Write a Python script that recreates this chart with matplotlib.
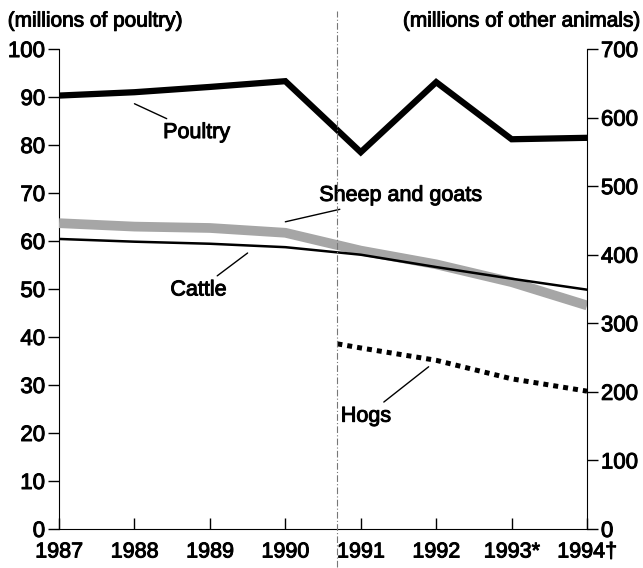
import matplotlib
matplotlib.use("Agg")
import matplotlib.pyplot as plt
import matplotlib.patheffects as pe

# ##### Data #####
years = [1987, 1988, 1989, 1990, 1991, 1992, 1993, 1994]
year_labels = ["1987", "1988", "1989", "1990", "1991", "1992", "1993*", "1994\u2020"]

# millions of poultry (left scale)
poultry = [90.3, 91.0, 92.1, 93.3, 78.5, 93.1, 81.2, 81.5]

# millions of other animals (right scale)
cattle = [423, 419, 416, 411, 400, 382, 365, 349]
sheep_goats = [446, 441, 439, 432, 406, 386, 360, 326]
hogs_years = [1990.69, 1991, 1992, 1993, 1994]
hogs = [270, 264, 246, 219, 201]

break_year = 1990.69

left_ticks = [0, 10, 20, 30, 40, 50, 60, 70, 80, 90, 100]
right_ticks = [0, 100, 200, 300, 400, 500, 600, 700]


def main():
    plt.rcParams['font.family'] = ['Liberation Sans', 'DejaVu Sans']
    heavy = [pe.withStroke(linewidth=0.7, foreground="black")]

    fig = plt.figure(figsize=(6.43, 5.68), dpi=100)
    ax = fig.add_axes([0.0918, 0.0687, 0.8212, 0.845])
    ax2 = ax.twinx()

    ax.set_xlim(1987, 1994)
    ax.set_ylim(0, 100)
    ax2.set_ylim(0, 700)

    # right-scale series
    ax2.plot(years, sheep_goats, color="#a6a6a6", lw=7, solid_capstyle="butt")
    ax2.plot(years, cattle, color="black", lw=1.8)
    ax2.plot(hogs_years, hogs, color="black", lw=3.6, dashes=(1, 1), dash_capstyle="butt")

    # poultry is on the left scale (1 left unit = 7 right units)
    ax2.plot(years, [p * 7 for p in poultry], color="black", lw=4.5, solid_joinstyle="miter")

    # break line
    ax2.axvline(break_year, ymin=-0.08, ymax=1.08, color="#777777", lw=0.8,
                linestyle=(0, (6, 2, 1, 2)), clip_on=False)

    # spines
    for a in (ax, ax2):
        a.spines["top"].set_visible(False)
    ax2.spines["left"].set_visible(False)
    ax2.spines["bottom"].set_visible(False)
    ax.spines["right"].set_visible(False)

    ax.set_yticks(left_ticks)
    ax.set_yticklabels([str(t) for t in left_ticks])
    ax2.set_yticks(right_ticks)
    ax2.set_yticklabels([str(t) for t in right_ticks])
    ax.set_xticks(years)
    ax.set_xticklabels(year_labels)

    ax.tick_params(axis="y", direction="out", length=8, width=1, labelsize=16, pad=2)
    ax2.tick_params(axis="y", direction="out", length=8, width=1, labelsize=16, pad=2)
    ax.tick_params(axis="x", direction="in", length=8, width=1, labelsize=15.5, pad=9)

    for lab in ax.get_xticklabels() + ax.get_yticklabels() + ax2.get_yticklabels():
        lab.set_path_effects(heavy)

    # axis titles
    fig.text(0.012, 0.963, "(millions of poultry)", fontsize=15, ha="left", va="center",
             path_effects=heavy)
    fig.text(0.997, 0.963, "(millions of other animals)", fontsize=15, ha="right", va="center",
             path_effects=heavy)

    # series labels with leader lines
    ax.annotate("Poultry", xy=(1988.0, 88.6), xytext=(1988.38, 82.6),
                fontsize=15.5, ha="left", va="center", path_effects=heavy,
                arrowprops=dict(arrowstyle="-", color="black", lw=1, shrinkA=1, shrinkB=0))
    ax.annotate("Sheep and goats", xy=(1990.0, 64.0), xytext=(1990.45, 69.5),
                fontsize=15.5, ha="left", va="center", path_effects=heavy,
                arrowprops=dict(arrowstyle="-", color="black", lw=1, shrinkA=2, shrinkB=0))
    ax.annotate("Cattle", xy=(1989.5, 57.5), xytext=(1989.22, 49.8),
                fontsize=15.5, ha="right", va="center", path_effects=heavy,
                arrowprops=dict(arrowstyle="-", color="black", lw=1, shrinkA=1, shrinkB=0))
    ax.annotate("Hogs", xy=(1991.9, 33.8), xytext=(1991.4, 23.5),
                fontsize=15.5, ha="right", va="center", path_effects=heavy,
                arrowprops=dict(arrowstyle="-", color="black", lw=1, shrinkA=1, shrinkB=0))

    fig.savefig("out.png", dpi=100)


if __name__ == "__main__":
    main()
